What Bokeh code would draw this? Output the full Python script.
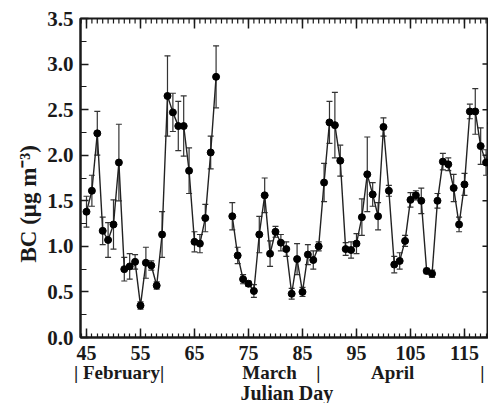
from bokeh.plotting import figure
from bokeh.models import (ColumnDataSource, FixedTicker, LinearAxis, Whisker, TeeHead,
                          PrintfTickFormatter, Range1d, Title)
from bokeh.embed import file_html
from bokeh.resources import INLINE

# ---- data ----
days = list(range(45, 70)) + list(range(72, 121))
bc = [1.38, 1.61, 2.24, 1.17, 1.07, 1.24, 1.92, 0.75, 0.78, 0.83, 0.35, 0.82, 0.79,
      0.57, 1.13, 2.65, 2.47, 2.32, 2.32, 1.83, 1.05, 1.03, 1.31, 2.03, 2.86,
      1.33, 0.90, 0.64, 0.59, 0.51, 1.13, 1.56, 0.92, 1.16, 1.04, 0.97, 0.48, 0.86,
      0.50, 0.91, 0.85, 1.00, 1.70, 2.36, 2.33, 1.94, 0.97, 0.96, 1.03, 1.32, 1.79,
      1.57, 1.33, 2.31, 1.61, 0.80, 0.84, 1.06, 1.51, 1.56, 1.50, 0.73, 0.70, 1.50,
      1.93, 1.90, 1.64, 1.24, 1.68, 2.48, 2.48, 2.10, 1.92, 2.35]
err = [0.17, 0.17, 0.24, 0.15, 0.19, 0.27, 0.42, 0.13, 0.14, 0.08, 0.04, 0.17, 0.05,
       0.04, 0.25, 0.44, 0.21, 0.27, 0.33, 0.25, 0.11, 0.10, 0.15, 0.18, 0.34,
       0.15, 0.09, 0.05, 0.03, 0.07, 0.20, 0.19, 0.14, 0.06, 0.09, 0.08, 0.06, 0.17,
       0.05, 0.11, 0.10, 0.05, 0.21, 0.23, 0.36, 0.17, 0.07, 0.09, 0.11, 0.20, 0.41,
       0.13, 0.15, 0.10, 0.06, 0.09, 0.09, 0.06, 0.08, 0.05, 0.14, 0.03, 0.04, 0.08,
       0.09, 0.07, 0.15, 0.08, 0.12, 0.08, 0.25, 0.20, 0.14, 0.15]
x_ticks = [45, 55, 65, 75, 85, 95, 105, 115]
x_minor = list(range(44, 120))
y_ticks = [0.0, 0.5, 1.0, 1.5, 2.0, 2.5, 3.0, 3.5]
y_minor = [0.25, 0.75, 1.25, 1.75, 2.25, 2.75, 3.25]
months = ["| February|", "March", "|", "April", "|"]
month_pos = [51.05, 78.9, 87.95, 101.7, 118.3]

FONT = "Liberation Serif"
INK = "#1a1a1a"
X0, X1 = 43.89, 119.45
Y0, Y1 = 0.0, 3.5

p = figure(width=488, height=403, output_backend="svg", toolbar_location=None,
           x_range=Range1d(X0, X1), y_range=Range1d(Y0, Y1),
           min_border_left=80, min_border_right=0, min_border_top=18, min_border_bottom=66,
           x_axis_type=None, y_axis_type=None)
p.outline_line_color = INK
p.outline_line_width = 2
p.xgrid.visible = False
p.ygrid.visible = False
p.background_fill_color = "white"

def style(ax):
    ax.axis_line_color = INK
    ax.axis_line_width = 2
    ax.major_tick_line_color = INK
    ax.minor_tick_line_color = INK
    ax.major_tick_line_width = 1.5
    ax.minor_tick_line_width = 1.2
    ax.major_tick_out = 0
    ax.minor_tick_out = 0
    ax.major_label_text_font = FONT
    ax.major_label_text_font_style = "bold"
    ax.major_label_text_font_size = "20px"
    ax.major_label_text_color = INK

bottom = LinearAxis(ticker=FixedTicker(ticks=x_ticks, minor_ticks=x_minor))
style(bottom)
bottom.major_tick_in = 9
bottom.minor_tick_in = 4
bottom.major_label_standoff = 8
p.add_layout(bottom, "below")

# month names row: an axis without line or ticks
mon = LinearAxis(ticker=FixedTicker(ticks=month_pos, minor_ticks=[]),
                 major_label_overrides={pos: t for pos, t in zip(month_pos, months)})
style(mon)
mon.axis_line_color = None
mon.major_tick_line_color = None
mon.minor_tick_line_color = None
mon.major_tick_in = 0
mon.major_label_text_font_size = "19px"
mon.major_label_standoff = -1
p.add_layout(mon, "below")

p.add_layout(Title(text="Julian Day", align="left", offset=160, text_font=FONT,
                   text_font_style="bold", text_font_size="20px", text_color=INK,
                   standoff=-12), "below")

left = LinearAxis(ticker=FixedTicker(ticks=y_ticks, minor_ticks=y_minor),
                  formatter=PrintfTickFormatter(format="%.1f"))
style(left)
left.major_label_text_font_size = "21px"
left.major_tick_in = 8
left.minor_tick_in = 6
left.major_label_standoff = 7
p.add_layout(left, "left")

p.add_layout(Title(text="BC (\u03bcg m\u207b\u00b3)", align="left", offset=75,
                   text_font=FONT, text_font_style="bold", text_font_size="23px",
                   text_color=INK, standoff=8), "left")

# inward ticks of the top and right frame edges, derived from the tick lists
xppu = 408 / (X1 - X0)
yppu = 319 / (Y1 - Y0)
p.segment(x0=x_ticks, y0=[Y1] * len(x_ticks), x1=x_ticks,
          y1=[Y1 - 10 / yppu] * len(x_ticks), line_color=INK, line_width=1.5)
p.segment(x0=x_minor, y0=[Y1] * len(x_minor), x1=x_minor,
          y1=[Y1 - 5 / yppu] * len(x_minor), line_color=INK, line_width=1.2)
p.segment(x0=[X1] * len(y_ticks), y0=y_ticks, x1=[X1 - 6 / xppu] * len(y_ticks),
          y1=y_ticks, line_color=INK, line_width=1.5)

# split into continuous runs
runs = []
cur = [0]
for i in range(1, len(days)):
    if days[i] - days[i - 1] > 1:
        runs.append(cur)
        cur = []
    cur.append(i)
runs.append(cur)

for r in runs:
    src = ColumnDataSource(dict(x=[days[i] for i in r], y=[bc[i] for i in r],
                                upper=[bc[i] + err[i] for i in r],
                                lower=[bc[i] - err[i] for i in r]))
    p.add_layout(Whisker(source=src, base="x", upper="upper", lower="lower",
                         line_color="#333333", line_width=1.2,
                         upper_head=TeeHead(size=6, line_color="#333333", line_width=1.2),
                         lower_head=TeeHead(size=6, line_color="#333333", line_width=1.2)))
    p.line("x", "y", source=src, line_color="#222222", line_width=1.4)
    p.scatter("x", "y", source=src, size=7, color="black")

open("out.html", "w").write(file_html(p, INLINE))
